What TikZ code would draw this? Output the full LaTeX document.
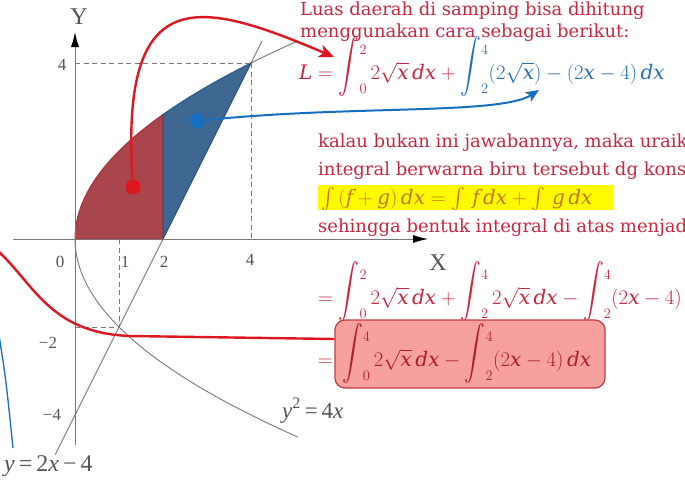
\documentclass[tikz,border=0pt]{standalone}
\usepackage{fontspec}
\setmainfont{DejaVu Serif}
\newfontfamily\graphfont{Liberation Serif}
\usepackage{amsmath}
\usepackage{graphicx}
\usetikzlibrary{arrows.meta}
\definecolor{txtred}{RGB}{200,40,62}
\definecolor{eqblue}{RGB}{40,112,182}
\definecolor{eqorange}{RGB}{196,118,0}
\definecolor{hiyellow}{RGB}{255,250,0}
\definecolor{conred}{RGB}{222,22,32}
\definecolor{conblue}{RGB}{22,110,192}
\definecolor{regred}{RGB}{168,70,76}
\definecolor{regredline}{RGB}{176,40,56}
\definecolor{regblue}{RGB}{62,104,146}
\definecolor{regblueline}{RGB}{40,88,138}
\definecolor{boxfill}{RGB}{246,160,160}
\definecolor{boxline}{RGB}{196,60,64}
\definecolor{boxtext}{RGB}{175,30,42}
\definecolor{axisgray}{RGB}{120,120,120}
\definecolor{labgray}{RGB}{85,85,85}
\newcommand{\mv}[1]{\text{\itshape #1}}
\newcommand{\Int}[2]{\mathop{\raisebox{6pt}{\scalebox{1}[1.3]{$\displaystyle\int$}}}\nolimits_{\smash{\raisebox{3pt}{$\scriptstyle#1$}}}^{\smash{\raisebox{-13pt}{$\scriptstyle#2$}}}}
\newcommand{\sint}{\mathop{\smash{\int}}\nolimits}
\newcommand{\Rx}{\sqrt{\mv{x}}}
\begin{document}
\begin{tikzpicture}[x=1pt,y=-1pt,
  txt/.style={anchor=base west, inner sep=0pt, text=txtred, font=\fontsize{18}{21}\selectfont},
  eqn/.style={anchor=base west, inner sep=0pt, text=txtred, font=\fontsize{20}{22}\selectfont},
  glab/.style={inner sep=0pt, text=labgray, font=\graphfont\fontsize{17}{20}\selectfont},
  curve/.style={draw=axisgray, line width=0.9pt},
  guide/.style={draw=axisgray, line width=1pt, dash pattern=on 5pt off 3.5pt},
  axisline/.style={draw=axisgray, line width=0.9pt, -{Latex[length=15pt,width=8pt,color=black]}},
  redcon/.style={draw=conred, line width=2.4pt, -{Stealth[length=15pt,width=13pt,inset=4pt]}},
  bluecon/.style={draw=conblue, line width=2pt, -{Stealth[length=13pt,width=11pt,inset=3pt]}},
  dot/.style={circle, inner sep=0pt, minimum size=15pt}]
\useasboundingbox (0,0) rectangle (685,496);
\fill[white] (0,0) rectangle (685,496);
% graph
\begin{scope}[shift={(75pt,-239pt)}, x=44pt, y=44pt]
  \draw[curve] (-0.45,-4.9) -- (4.25,4.5);
  \draw[curve] plot[domain=4:4.5, samples=10] ({\x*\x/4},\x);
  \draw[curve] plot[domain=0:-4.5, samples=50] ({\x*\x/4},\x);
  \filldraw[fill=regred, draw=regredline, line width=1pt] (0,0) -- plot[domain=0:2.8284, samples=40] ({\x*\x/4},\x) -- (2,0) -- cycle;
  \filldraw[fill=regblue, draw=regblueline, line width=1pt] (2,0) -- (2,2.8284) -- plot[domain=2.8284:4, samples=20] ({\x*\x/4},\x) -- cycle;
  \draw[guide] (0,4) -- (4,4);
  \draw[guide] (4,4) -- (4,0);
  \draw[guide] (1,0) -- (1,-2);
  \draw[guide] (0,-2) -- (1,-2);
\end{scope}
\draw[axisline] (13,239) -- (428,239);
\draw[axisline] (75,445) -- (75,32);
\node[glab, font=\graphfont\fontsize{24}{26}\selectfont] (ylab) at (79,17) {Y};
\node[glab, font=\graphfont\fontsize{24}{26}\selectfont] (xlab) at (438,263) {X};
\node[glab] (t0) at (60,262) {0};
\node[glab] (t1) at (125,262) {1};
\node[glab] (t2) at (164,262) {2};
\node[glab] (t4) at (250,260) {4};
\node[glab] (ty4) at (62,65) {4};
\node[glab] (tym2) at (48,343) {−2};
\node[glab] (tym4) at (52,415) {−4};
\node[glab, anchor=base west, font=\graphfont\fontsize{24}{26}\selectfont] (lineeq) at (4,471) {\textit{y}\,=\,2\textit{x}\,−\,4};
\node[glab, anchor=base west, font=\graphfont\fontsize{23}{26}\selectfont] (parabeq) at (282,418) {\textit{y}\textsuperscript{2}\,=\,4\textit{x}};
% texts
\node[txt] (l1) at (300,15) {Luas daerah di samping bisa dihitung};
\node[txt] (l2) at (300,37) {menggunakan cara sebagai berikut:};
\node[eqn] (eq1) at (299,79) {$\mv{L} = \Int{0}{2} 2\Rx\,\mv{dx} + \textcolor{eqblue}{\Int{2}{4}(2\Rx) - (2\mv{x}-4)\,\mv{dx}}$};
\node[txt] (l4) at (318,147) {kalau bukan ini jawabannya, maka uraikan};
\node[txt] (l5) at (318,175) {integral berwarna biru tersebut dg konsep};
\fill[hiyellow] (318,185) rectangle (613,210);
\node[eqn, text=eqorange] (hl) at (321,204) {$\sint\,(\mv{f}+\mv{g})\,\mv{dx} = \sint\,\mv{f}\,\mv{dx} + \sint\,\mv{g}\,\mv{dx}$};
\node[txt] (l7) at (318,232) {sehingga bentuk integral di atas menjadi};
\node[eqn] (eq2) at (318,304) {$= \Int{0}{2} 2\Rx\,\mv{dx} + \Int{2}{4} 2\Rx\,\mv{dx} - \Int{2}{4}(2\mv{x}-4)\,\mv{dx}$};
\node[draw=boxline, fill=boxfill, line width=1.2pt, rounded corners=10pt, minimum width=270pt, minimum height=68pt, inner sep=0pt] (box) at (470,354) {};
\node[eqn, anchor=base east] (eq3eq) at (333,366) {$=$};
\node[eqn, text=boxtext] (eq3) at (342,366) {$\Int{0}{4} 2\Rx\,\mv{dx} - \Int{2}{4}(2\mv{x}-4)\,\mv{dx}$};
% connectors
\coordinate (redtip) at (334,57);
\coordinate (bluetip) at (539,90);
\coordinate (leftred) at (-3,250);
\coordinate (leftredmid) at (130,336);
\coordinate (leftblueA) at (-1,335);
\coordinate (leftblueB) at (13,448);
\draw[draw=conred, line width=2.4pt] (leftred) .. controls (35,285) and (50,333) .. (leftredmid) -- ([yshift=15pt]box.west);
\draw[draw=conblue, line width=1.3pt] (leftblueA) .. controls (6,380) .. (leftblueB);
\node[dot, fill=conred] (reddot) at (133,187) {};
\node[dot, fill=conblue] (bluedot) at (197,121) {};
\draw[redcon] (reddot) .. controls (120,-20) and (200,0) .. (redtip);
\draw[bluecon] (bluedot) .. controls (350,105) and (500,115) .. (bluetip);
\end{tikzpicture}
\end{document}
